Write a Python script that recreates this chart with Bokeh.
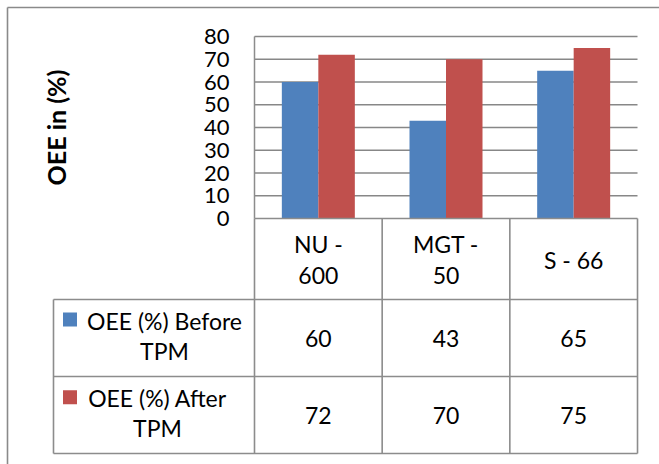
import numpy as np
from bokeh.plotting import figure
from bokeh.models import FixedTicker, ColumnDataSource
from bokeh.core.properties import value
from bokeh.embed import file_html
from bokeh.resources import INLINE

# ---- data ----
categories = ["NU - 600", "MGT - 50", "S - 66"]
category_labels = ["NU -\n600", "MGT -\n50", "S - 66"]
series_names = ["OEE (%) Before TPM", "OEE (%) After TPM"]
series_labels = ["OEE (%) Before\nTPM", "OEE (%) After\nTPM"]
before_tpm = [60, 43, 65]
after_tpm = [72, 70, 75]
y_ticks = [0, 10, 20, 30, 40, 50, 60, 70, 80]
y_title = "OEE in (%)"

# ---- layout constants (pixels) ----
W, H = 659, 464
PX_COL0 = 254.0      # left edge of first category column
PX_COL_W = 127.67    # column width
PX_Y0 = 218.0        # pixel row of value 0
PX_PER_UNIT = 2.275  # pixels per value unit

def xd(px):
    return (px - PX_COL0) / PX_COL_W - 0.5

def yd(py):
    return (PX_Y0 - py) / PX_PER_UNIT

FONT = "Lato"
FS = "23px"
BLUE = "#4F81BD"
RED = "#C0504D"
GRID = "#878787"
BORDER = "#8C8C8C"

p = figure(width=W, height=H, output_backend="svg", toolbar_location=None,
           x_range=(xd(0), xd(W)), y_range=(yd(H), yd(0)),
           min_border_left=0, min_border_right=0, min_border_top=0, min_border_bottom=0,
           background_fill_color="white", border_fill_color="white")
p.outline_line_color = None
p.xaxis.visible = False
p.xgrid.visible = False
p.ygrid.visible = False

ax = p.yaxis[0]
ax.fixed_location = -0.5
ax.ticker = FixedTicker(ticks=y_ticks)
ax.bounds = (0, 80)
ax.axis_line_color = BORDER
ax.axis_line_width = 1.5
ax.major_tick_out = 0
ax.major_tick_in = 0
ax.minor_tick_out = 0
ax.minor_tick_in = 0
ax.major_label_standoff = 25
ax.major_label_text_font = FONT
ax.major_label_text_font_size = "22px"
ax.major_label_text_color = "black"
ax.axis_label = y_title
ax.axis_label_text_font = FONT
ax.axis_label_text_font_style = "bold"
ax.axis_label_text_font_size = "25px"
ax.axis_label_text_color = "black"
ax.axis_label_standoff = 130

# gridlines (from tick values)
gt = [t for t in y_ticks if t > 0]
p.segment(x0=[-0.5] * len(gt), x1=[2.5] * len(gt), y0=gt, y1=gt,
          line_color=GRID, line_width=1.3)

# bars
idx = np.arange(len(categories))
bw = 36.5 / PX_COL_W
p.vbar(x=idx - bw / 2, top=before_tpm, width=bw, bottom=0, fill_color=BLUE, line_color=None)
p.vbar(x=idx + bw / 2, top=after_tpm, width=bw, bottom=0, fill_color=RED, line_color=None)

# outer chart border (top and left only visible)
p.segment(x0=[xd(7), xd(7)], y0=[yd(7), yd(7)], x1=[xd(W + 5), xd(7)], y1=[yd(7), yd(H + 5)],
          line_color="#8A8A8A", line_width=1.6)

# data table borders
r_hdr, r1, r2 = yd(299), yd(376), yd(453)
x_leg = xd(53)
hx0 = [-0.5, x_leg, x_leg, x_leg]
hx1 = [2.5, 2.5, 2.5, 2.5]
hy = [0, r_hdr, r1, r2]
p.segment(x0=hx0, x1=hx1, y0=hy, y1=hy, line_color=BORDER, line_width=1.6)
vx = [-0.5, 0.5, 1.5, 2.5, x_leg]
vy0 = [0, 0, 0, 0, r_hdr]
vy1 = [r2, r2, r2, r2, r2]
p.segment(x0=vx, x1=vx, y0=vy0, y1=vy1, line_color=BORDER, line_width=1.6)

# header (category) labels
p.text(x=idx, y=[yd(259)] * 3, text=category_labels,
       text_font=value(FONT), text_font_size=FS, text_align="center",
       text_baseline="middle", text_line_height=1.1, text_color="black")

# values
row_c = [(r_hdr + r1) / 2, (r1 + r2) / 2]
for row, vals in enumerate([before_tpm, after_tpm]):
    p.text(x=idx, y=[row_c[row]] * 3, text=[str(v) for v in vals],
           text_font=value(FONT), text_font_size=FS, text_align="center",
           text_baseline="middle", text_color="black")

# legend cells
leg_src = ColumnDataSource(dict(
    x=[xd(164), xd(157)], y=[yd(335.5), yd(412.5)], text=series_labels,
    mx=[xd(69.5)] * 2, my=[yd(319), yd(396.7)], color=[BLUE, RED]))
p.text(x="x", y="y", text="text", source=leg_src,
       text_font=value(FONT), text_font_size=FS, text_align="center",
       text_baseline="middle", text_line_height=1.1, text_color="black")
p.scatter(x="mx", y="my", marker="square", size=14, fill_color="color",
          line_color=None, source=leg_src)

open("out.html", "w").write(file_html(p, INLINE))
